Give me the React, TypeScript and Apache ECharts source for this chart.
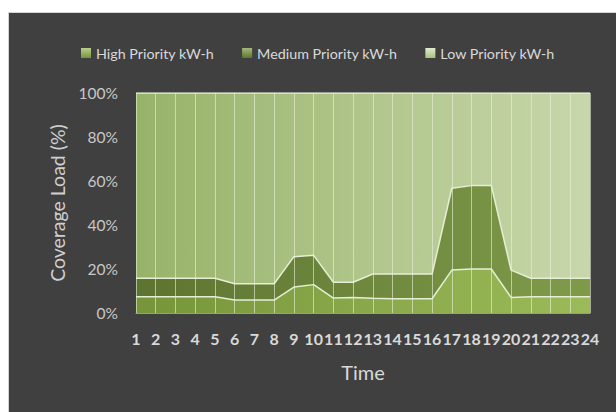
import React, { useEffect, useRef } from "react";
import * as echarts from "echarts";

const hours = ["1","2","3","4","5","6","7","8","9","10","11","12","13","14","15","16","17","18","19","20","21","22","23","24"];
const highPct = [7.4,7.4,7.4,7.4,7.4,5.9,5.9,5.9,11.8,12.9,6.8,7.1,6.7,6.5,6.5,6.5,19.5,20.0,20.0,7.1,7.4,7.4,7.4,7.4];
const mediumPct = [8.4,8.4,8.4,8.4,8.4,7.4,7.4,7.4,13.8,13.3,7.2,6.9,11.0,11.2,11.2,11.2,37.2,37.9,37.9,12.4,8.4,8.4,8.4,8.4];
const lowPct = [84.2,84.2,84.2,84.2,84.2,86.7,86.7,86.7,74.4,73.8,86.0,86.0,82.3,82.3,82.3,82.3,43.3,42.1,42.1,80.5,84.2,84.2,84.2,84.2];
const yTicks = [0, 20, 40, 60, 80, 100];
const seriesNames = ["High Priority kW-h", "Medium Priority kW-h", "Low Priority kW-h"];

const FONT = "Lato";

export default function App() {
  const ref = useRef<HTMLDivElement>(null);
  useEffect(() => {
    if (!ref.current) return;
    const chart = echarts.init(ref.current, null, { renderer: "svg" });
    const hGrad = (a: string, b: string) =>
      new echarts.graphic.LinearGradient(0, 0, 1, 0, [
        { offset: 0, color: a },
        { offset: 1, color: b },
      ]);
    const vGrad = (a: string, b: string) =>
      new echarts.graphic.LinearGradient(0, 0, 0, 1, [
        { offset: 0, color: a },
        { offset: 1, color: b },
      ]);
    const lineStyle = { color: "#e6eed6", width: 1.5 };
    const mk = (name: string, data: number[], fillA: string, fillB: string, solid: string) => ({
      name,
      type: "line",
      stack: "total",
      data,
      symbol: "none",
      color: solid,
      lineStyle,
      areaStyle: { color: hGrad(fillA, fillB), opacity: 1 },
      emphasis: { disabled: true },
    });
    chart.setOption({
      animation: false,
      backgroundColor: "#ffffff",
      textStyle: { fontFamily: FONT },
      graphic: [
        {
          type: "rect",
          z: -10,
          silent: true,
          shape: { x: 8.5, y: 12.5, width: 620, height: 410 },
          style: { fill: "#404040", stroke: "#d4d4d4", lineWidth: 1 },
        },
      ],
      legend: {
        top: 41,
        left: 76,
        itemWidth: 10,
        itemHeight: 10,
        itemGap: 28,
        icon: "rect",
        textStyle: { color: "#d9d9d9", fontSize: 14.3, fontFamily: FONT },
        data: [
          { name: seriesNames[0], itemStyle: { color: vGrad("#b9d08a", "#76953a") } },
          { name: seriesNames[1], itemStyle: { color: vGrad("#a3b97a", "#5e7531") } },
          { name: seriesNames[2], itemStyle: { color: vGrad("#e2ebd2", "#a9c27c") } },
        ],
      },
      grid: { left: 136, right: 26, top: 93, bottom: 99, containLabel: false },
      xAxis: {
        type: "category",
        boundaryGap: false,
        data: hours,
        z: 5,
        name: "Time",
        nameLocation: "middle",
        nameGap: 49,
        nameTextStyle: { color: "#d9d9d9", fontSize: 20, fontFamily: FONT },
        axisLine: { show: true, lineStyle: { color: "#9a9a9a", width: 1 } },
        axisTick: { show: false },
        axisLabel: { color: "#d9d9d9", fontSize: 16, fontWeight: "bold", margin: 17, interval: 0, fontFamily: FONT },
        splitLine: { show: true, lineStyle: { color: "rgba(235,242,220,0.6)", width: 1 } },
      },
      yAxis: {
        type: "value",
        min: yTicks[0],
        max: yTicks[yTicks.length - 1],
        interval: 20,
        name: "Coverage Load (%)",
        nameLocation: "middle",
        nameGap: 69,
        nameRotate: 90,
        nameTextStyle: { color: "#cfcfcf", fontSize: 19.5, fontFamily: FONT },
        axisLine: { show: false },
        axisTick: { show: false },
        axisLabel: { color: "#c8c8c8", fontSize: 15.5, margin: 18, formatter: "{value}%", fontFamily: FONT },
        splitLine: { show: false },
      },
      series: [
        mk(seriesNames[0], highPct, "#76953a", "#9bbb59", "#8aaa4a"),
        mk(seriesNames[1], mediumPct, "#5d7430", "#7f9b4a", "#6c8a3a"),
        mk(seriesNames[2], lowPct, "#97b369", "#c8d7ab", "#b7cc90"),
      ],
    });
    return () => chart.dispose();
  }, []);
  return (
    <div
      ref={ref}
      style={{ position: "absolute", left: 0, top: 0, width: 616, height: 412 }}
    />
  );
}
